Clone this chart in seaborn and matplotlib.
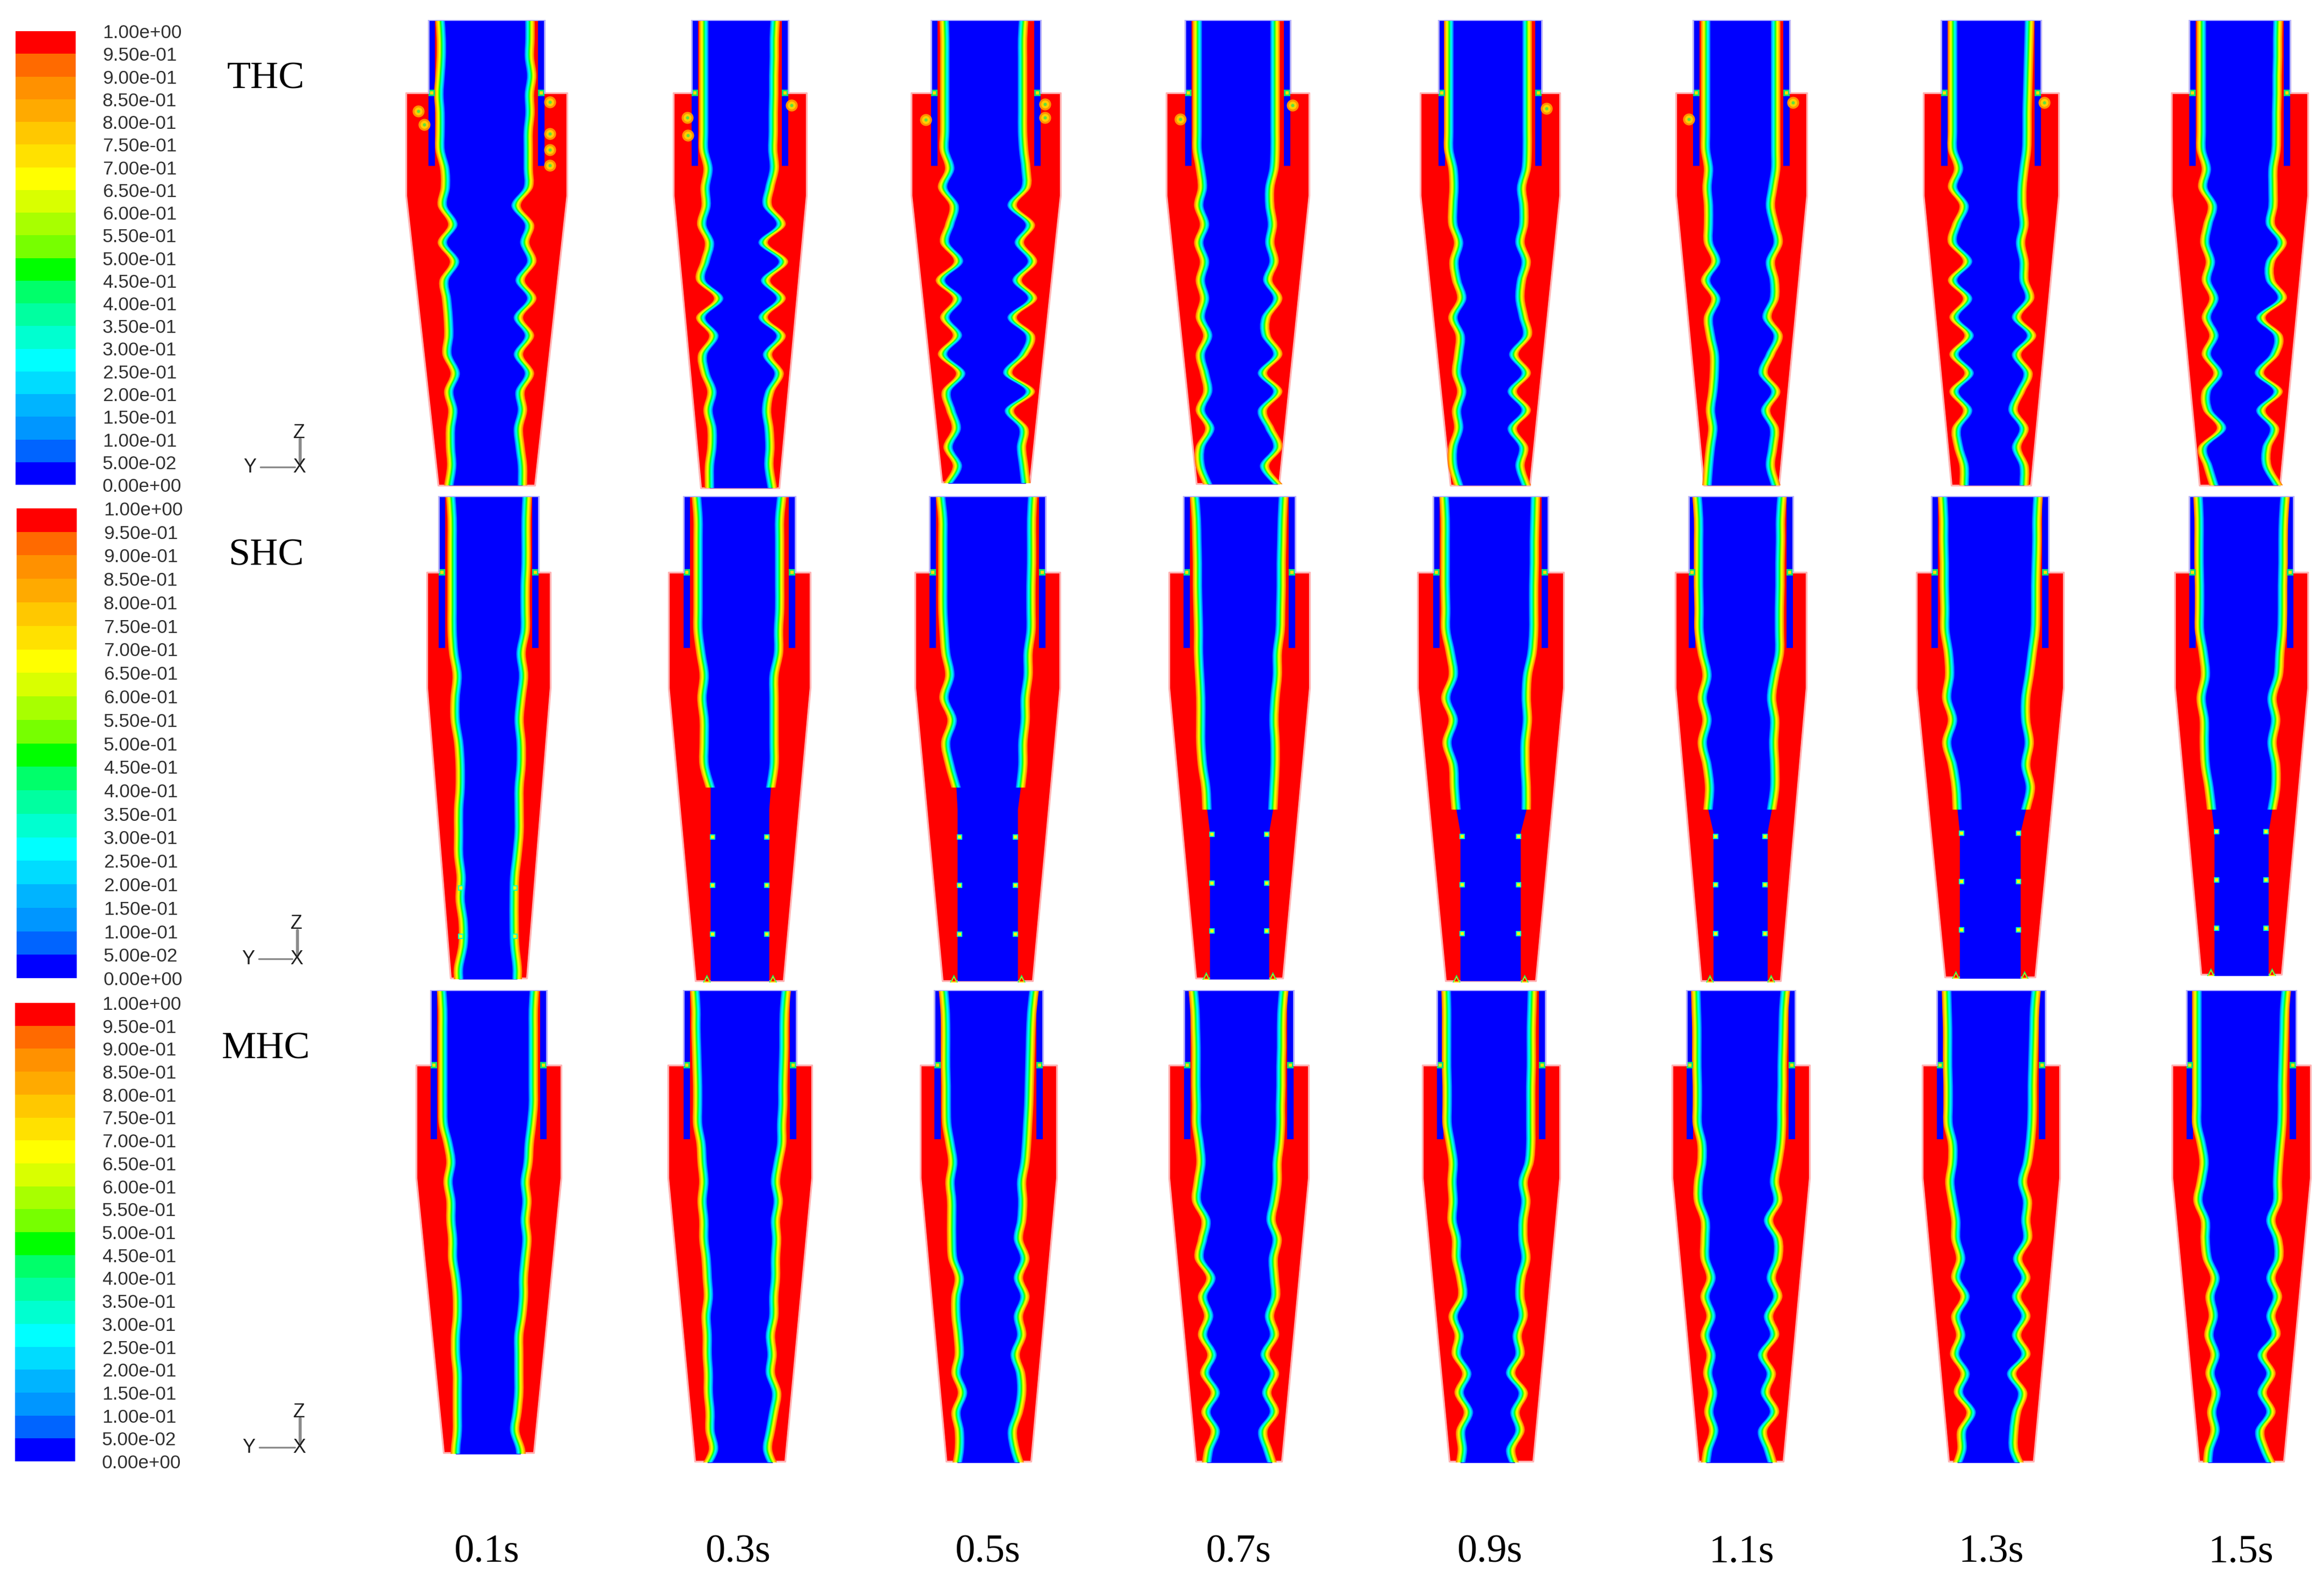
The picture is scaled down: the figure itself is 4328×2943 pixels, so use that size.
"""Volume fraction contours of three hydrocyclones at eight flow times."""
import numpy as np
import seaborn as sb
import matplotlib
matplotlib.use('Agg')
import matplotlib.pyplot as plt
from matplotlib.colors import ListedColormap
from matplotlib.patches import PathPatch
from matplotlib.path import Path

W, H = 4328, 2943

TIME_LABELS = ['0.1s', '0.3s', '0.5s', '0.7s', '0.9s', '1.1s', '1.3s', '1.5s']
TIME_X = [906, 1374, 1839, 2306, 2774, 3243, 3708, 4173]
ROW_NAMES = ['THC', 'SHC', 'MHC']
ROW_NAME_Y = [147, 1035, 1954]

LEGEND_LABELS = ['1.00e+00', '9.50e-01', '9.00e-01', '8.50e-01', '8.00e-01', '7.50e-01', '7.00e-01',
                 '6.50e-01', '6.00e-01', '5.50e-01', '5.00e-01', '4.50e-01', '4.00e-01', '3.50e-01',
                 '3.00e-01', '2.50e-01', '2.00e-01', '1.50e-01', '1.00e-01', '5.00e-02', '0.00e+00']
LEGEND_VALUES = [0.975, 0.925, 0.875, 0.825, 0.775, 0.725, 0.675, 0.625, 0.575, 0.525,
                 0.475, 0.425, 0.375, 0.325, 0.275, 0.225, 0.175, 0.125, 0.075, 0.025]
# top of the legend first
LEGEND_COLORS = ['#ff0000', '#ff6a00', '#ff9100', '#ffaa00', '#ffc800', '#ffe100', '#ffff00',
                 '#d9ff00', '#a8ff00', '#77ff00', '#00ff00', '#00ff6a', '#00ffa0', '#00ffd0',
                 '#00ffff', '#00dcff', '#00b4ff', '#0096ff', '#0064ff', '#0000ff']

# Interface radius, percent of the tube radius, read at each depth level
THC_LEVELS = [0, 35, 69, 104, 138, 173, 208, 242, 277, 312, 346, 381, 415, 450, 485, 519, 554, 588,
              623, 658, 692, 727, 761, 796, 831, 865]
THC_LEFT = [
    [80, 78, 78, 80, 82, 80, 80, 80, 72, 71, 76, 58, 76, 55, 73, 69, 66, 65, 68, 54, 65, 58, 62, 62, 60, 65],
    [75, 75, 75, 75, 75, 75, 75, 75, 66, 72, 70, 79, 63, 72, 81, 44, 81, 54, 77, 72, 58, 66, 58, 58, 63, 63],
    [76, 75, 75, 75, 75, 75, 75, 76, 66, 79, 58, 66, 75, 50, 83, 52, 75, 52, 79, 46, 72, 64, 54, 69, 52, 70],
    [77, 77, 77, 77, 77, 77, 77, 77, 71, 67, 74, 63, 74, 63, 71, 63, 71, 57, 71, 63, 57, 71, 53, 71, 71, 57],
    [80, 80, 80, 80, 80, 80, 80, 80, 72, 70, 72, 72, 61, 70, 65, 55, 72, 58, 61, 65, 55, 65, 61, 72, 72, 61],
    [74, 74, 74, 74, 74, 74, 74, 74, 68, 71, 68, 68, 68, 53, 74, 53, 68, 64, 56, 56, 59, 64, 59, 64, 68, 71],
    [77, 77, 77, 77, 77, 77, 77, 77, 65, 77, 54, 69, 77, 47, 77, 47, 74, 44, 74, 44, 74, 47, 69, 65, 54, 54],
    [76, 76, 76, 76, 76, 76, 76, 76, 66, 73, 54, 63, 69, 58, 66, 51, 66, 51, 66, 43, 66, 63, 36, 73, 63, 51],
]
THC_RIGHT = [
    [75, 75, 74, 78, 74, 75, 72, 72, 72, 72, 51, 74, 66, 78, 58, 78, 55, 74, 55, 74, 58, 62, 55, 58, 62, 62],
    [73, 71, 71, 70, 70, 69, 69, 68, 71, 62, 57, 85, 48, 90, 53, 85, 48, 85, 57, 81, 62, 55, 60, 62, 60, 67],
    [69, 67, 67, 67, 67, 67, 67, 69, 73, 73, 48, 81, 61, 85, 57, 85, 48, 81, 69, 40, 81, 43, 69, 65, 69, 73],
    [71, 71, 71, 71, 71, 71, 71, 71, 69, 61, 61, 66, 61, 69, 57, 76, 54, 54, 76, 47, 76, 47, 61, 76, 51, 76],
    [72, 72, 72, 72, 72, 72, 72, 72, 70, 61, 65, 65, 58, 70, 61, 58, 65, 72, 46, 70, 43, 70, 43, 65, 58, 70],
    [71, 71, 71, 71, 71, 71, 71, 71, 71, 65, 60, 68, 76, 60, 68, 68, 53, 76, 60, 45, 71, 50, 68, 65, 60, 71],
    [77, 76, 75, 74, 73, 72, 72, 71, 66, 62, 62, 66, 59, 66, 66, 77, 51, 81, 51, 74, 59, 44, 66, 51, 66, 66],
    [76, 75, 75, 74, 74, 73, 73, 72, 66, 66, 66, 61, 84, 61, 61, 84, 42, 76, 69, 39, 76, 42, 69, 54, 54, 76],
]
# pockets of lighter phase in the THC body: offset from the axis and depth, per time
THC_POCKET_X = [[-127, -116, 118, 118, 118, 118], [-98, -97, 96], [-112, 110, 110], [-107, 102], [105],
                [-98, 96], [99], []]
THC_POCKET_Z = [[170, 195, 153, 212, 242, 271], [182, 215, 159], [186, 157, 182], [185, 159], [165],
                [185, 154], [154], []]

SHC_LEVELS = [0, 42, 84, 125, 167, 209, 250, 292, 334, 376, 417, 459, 501, 543, 584, 626, 668, 710,
              751, 793, 835, 877, 900]
SHC_LEFT = [
    [76, 73, 73, 73, 73, 73, 73, 70, 63, 67, 67, 60, 57, 57, 60, 60, 60, 55, 57, 51, 51, 60, 60],
    [77, 74, 74, 74, 74, 74, 74, 69, 63, 67, 63, 63, 63, 52, 52, 52, 52, 52, 52, 52, 52, 52, 52],
    [81, 77, 77, 77, 77, 77, 75, 72, 65, 75, 61, 72, 65, 54, 52, 52, 52, 52, 52, 52, 52, 52, 52],
    [80, 77, 76, 75, 75, 74, 73, 73, 71, 69, 69, 69, 66, 60, 58, 53, 53, 53, 53, 53, 53, 53, 53],
    [81, 79, 79, 79, 79, 78, 78, 70, 65, 78, 65, 76, 65, 63, 60, 53, 53, 53, 53, 53, 53, 53, 53],
    [84, 81, 81, 81, 81, 80, 80, 74, 65, 74, 65, 74, 65, 60, 63, 53, 53, 53, 53, 53, 53, 53, 53],
    [81, 79, 79, 78, 78, 77, 77, 71, 69, 74, 64, 74, 64, 58, 56, 52, 52, 52, 52, 52, 52, 52, 52],
    [83, 81, 81, 81, 80, 80, 80, 73, 69, 77, 71, 71, 69, 62, 57, 52, 52, 52, 52, 52, 52, 52, 52],
]
SHC_RIGHT = [
    [77, 75, 75, 75, 73, 73, 73, 65, 70, 65, 61, 65, 65, 61, 61, 61, 57, 52, 51, 51, 52, 57, 57],
    [76, 72, 72, 72, 72, 72, 70, 70, 62, 62, 62, 62, 62, 56, 53, 53, 53, 53, 53, 53, 53, 53, 53],
    [78, 76, 76, 76, 75, 75, 75, 70, 70, 65, 65, 61, 61, 57, 52, 52, 52, 52, 52, 52, 52, 52, 52],
    [79, 77, 76, 75, 75, 74, 73, 68, 68, 64, 62, 64, 64, 62, 60, 53, 53, 53, 53, 53, 53, 53, 53],
    [78, 77, 76, 76, 75, 75, 75, 72, 64, 62, 64, 60, 60, 62, 62, 52, 52, 52, 52, 52, 52, 52, 52],
    [79, 76, 76, 75, 75, 74, 74, 74, 65, 59, 65, 63, 65, 65, 59, 51, 51, 51, 51, 51, 51, 51, 51],
    [82, 80, 80, 79, 78, 78, 77, 72, 67, 61, 61, 67, 61, 69, 61, 52, 52, 52, 52, 52, 52, 52, 52],
    [84, 81, 80, 80, 79, 79, 78, 74, 71, 59, 66, 59, 66, 66, 59, 52, 52, 52, 52, 52, 52, 52, 52],
]
# number of levels that still carry a mixing band, per time
SHC_BAND_LEVELS = [23, 14, 14, 15, 15, 15, 15, 15]
# depth of the small spots on the core edge
SHC_SPOT_Z = [[730, 820], [635, 725, 816], [635, 725, 816], [630, 721, 810], [634, 724, 815], [634, 724, 815],
              [628, 718, 808], [625, 715, 805]]

MHC_LEVELS = [0, 36, 71, 107, 143, 179, 214, 250, 286, 321, 357, 393, 429, 464, 500, 536, 571, 607,
              643, 679, 714, 750, 786, 821, 857, 893]
MHC_LEFT = [
    [81, 79, 79, 79, 79, 79, 79, 78, 70, 65, 70, 65, 65, 62, 62, 57, 54, 54, 57, 57, 54, 54, 54, 54, 57, 57],
    [80, 78, 78, 77, 76, 75, 75, 75, 69, 67, 64, 67, 64, 64, 60, 58, 56, 60, 58, 58, 56, 56, 53, 53, 47, 64],
    [83, 80, 79, 79, 79, 78, 78, 77, 71, 66, 71, 68, 68, 68, 66, 54, 60, 60, 56, 54, 60, 48, 60, 54, 54, 60],
    [83, 80, 79, 78, 78, 78, 77, 77, 72, 69, 74, 77, 60, 66, 72, 51, 66, 55, 66, 49, 62, 43, 60, 43, 55, 60],
    [83, 82, 82, 82, 82, 81, 81, 81, 75, 70, 72, 70, 72, 64, 64, 56, 53, 70, 59, 64, 45, 59, 42, 56, 53, 59],
    [83, 82, 81, 81, 81, 80, 80, 80, 72, 72, 78, 78, 66, 66, 66, 55, 66, 55, 66, 55, 61, 52, 59, 50, 61, 66],
    [82, 81, 80, 80, 80, 79, 79, 79, 71, 71, 76, 71, 65, 65, 56, 65, 48, 65, 56, 67, 48, 60, 37, 54, 54, 67],
    [81, 81, 81, 81, 81, 81, 81, 81, 73, 68, 73, 79, 66, 66, 62, 48, 57, 51, 59, 48, 57, 46, 54, 48, 59, 62],
]
MHC_RIGHT = [
    [79, 77, 77, 77, 77, 77, 77, 74, 70, 68, 63, 66, 63, 66, 63, 60, 60, 57, 52, 52, 52, 52, 49, 45, 55, 55],
    [82, 79, 78, 78, 77, 76, 76, 74, 74, 68, 63, 68, 63, 65, 63, 63, 60, 60, 54, 57, 54, 65, 60, 54, 49, 63],
    [84, 80, 78, 77, 76, 75, 74, 72, 70, 67, 61, 63, 61, 55, 67, 55, 67, 55, 61, 49, 59, 61, 55, 44, 49, 61],
    [82, 79, 78, 78, 77, 77, 76, 76, 74, 70, 70, 65, 59, 70, 63, 65, 67, 56, 65, 48, 65, 51, 65, 44, 53, 65],
    [76, 75, 74, 74, 74, 73, 73, 73, 73, 70, 59, 64, 59, 59, 64, 55, 53, 59, 48, 53, 36, 59, 44, 53, 36, 48],
    [82, 79, 78, 77, 76, 76, 75, 75, 73, 68, 62, 68, 51, 68, 68, 56, 68, 51, 62, 40, 56, 45, 62, 40, 51, 62],
    [83, 80, 79, 78, 77, 76, 76, 75, 72, 67, 58, 67, 64, 67, 49, 64, 47, 64, 47, 64, 38, 58, 47, 42, 42, 58],
    [82, 79, 78, 77, 76, 75, 75, 74, 71, 68, 66, 66, 54, 66, 68, 54, 66, 54, 63, 38, 54, 38, 54, 34, 43, 60],
]

# layout of the three rows, reference pixels
ROWS = [
    dict(top=37, collar=136, finder=272, cone=327,
         cx=[906, 1378, 1836, 2305, 2775, 3243, 3708, 4171],
         bottom=[904, 909, 898, 901, 904, 904, 904, 904],
         tube=[108, 90, 102, 98, 96, 90, 93, 94], body=[150, 124, 139, 133, 130, 122, 126, 127],
         tip=[90, 73, 82, 77, 74, 70, 74, 75]),
    dict(top=924, collar=142, finder=283, cone=357,
         cx=[910, 1377, 1839, 2308, 2776, 3242, 3706, 4174],
         bottom=[1822, 1827, 1827, 1822, 1827, 1827, 1820, 1815],
         tube=[93, 104, 108, 104, 107, 97, 109, 97], body=[115, 132, 135, 131, 136, 122, 137, 124],
         tip=[71, 82, 84, 81, 84, 74, 84, 75]),
    dict(top=1844, collar=140, finder=278, cone=350,
         cx=[910, 1378, 1841, 2307, 2777, 3242, 3708, 4174],
         bottom=[2706, 2722, 2722, 2722, 2722, 2722, 2722, 2722],
         tube=[108, 105, 101, 102, 101, 101, 101, 102], body=[135, 134, 127, 130, 128, 128, 128, 129],
         tip=[84, 84, 79, 80, 78, 79, 79, 79]),
]
LEGEND_BOX = [(58, 903, 29), (947, 1822, 31), (1868, 2722, 28)]
TRIAD = [(465, 557, 870, 806), (462, 552, 1786, 1721), (463, 557, 2696, 2630)]

RED, BLUE = LEGEND_COLORS[0], LEGEND_COLORS[-1]
# half width of the mixing band around the green line, px
BAND = 9
SERIF = 'Liberation Serif'
SANS = 'Liberation Sans'


def to_axes(x0, x1, top, bottom):
    return [x0 / W, 1 - bottom / H, (x1 - x0) / W, (bottom - top) / H]


def edge_path(x, z):
    """Region from a wavy edge to the axis; the edge runs through every read point as a smooth curve."""
    verts = [(x[0], z[0])]
    codes = [Path.MOVETO]
    last = len(x) - 1
    for i in range(last):
        a, d = max(i - 1, 0), min(i + 2, last)
        verts.append((x[i] + (x[i + 1] - x[a]) / 6, z[i] + (z[i + 1] - z[a]) / 6))
        verts.append((x[i + 1] - (x[d] - x[i]) / 6, z[i + 1] - (z[d] - z[i]) / 6))
        verts.append((x[i + 1], z[i + 1]))
        codes += [Path.CURVE4] * 3
    verts += [(0, z[-1]), (0, z[0]), (0, z[0])]
    codes += [Path.LINETO, Path.LINETO, Path.CLOSEPOLY]
    return Path(verts, codes)


def draw_bands(ax, z, radius, side):
    """Paint the contour bands one over the other, from the wall side in to the core."""
    edges = np.linspace(BAND, -BAND, 19)
    for k, color in enumerate(LEGEND_COLORS[1:20]):
        path = edge_path(side * (radius + edges[k]), z)
        ax.add_patch(PathPatch(path, facecolor=color, edgecolor='none', linewidth=0))


def draw_panel(row, i, levels, left, right, n_band, pockets=None, spots=None):
    cx, tube, body, tip = row['cx'][i], row['tube'][i], row['body'][i], row['tip'][i]
    top, bottom = row['top'], row['bottom'][i]
    height = bottom - top
    ax = fig.add_axes(to_axes(cx - body - 8, cx + body + 8, top, bottom + 2))
    ax.patch.set_alpha(0)

    # silhouette with a pale rim, as in the exported contour picture
    wall_z = [0, row['collar'], row['collar'], row['cone'], height]
    wall_r = [tube, tube, body, body, tip]
    ax.fill_betweenx(wall_z, -np.array(wall_r), wall_r, color=RED, edgecolor='#ffb4b4', linewidth=0.6)

    # vortex finder walls
    for side in (-1, 1):
        ax.fill_betweenx([0, row['finder']], side * tube, side * (tube - 12), color=BLUE, linewidth=0)
    ax.plot([-tube, tube], [0, 0], color='#b4b4ff', linewidth=0.5)
    ax.plot([-tube, -tube], [0, row['collar']], color='#b4b4ff', linewidth=0.5)
    ax.plot([tube, tube], [0, row['collar']], color='#b4b4ff', linewidth=0.5)

    z = np.array(levels, dtype=float)
    # the last level is the outlet plane of this panel
    z[-1] = max(z[-1], height)
    r_left = np.array(left) * tube / 100
    r_right = np.array(right) * tube / 100
    ax.fill_betweenx(z, -r_left, r_right, color=BLUE, linewidth=0)
    draw_bands(ax, z[:n_band], r_left[:n_band], -1)
    draw_bands(ax, z[:n_band], r_right[:n_band], 1)

    # marks where the finder passes the collar
    collar_x = [-(tube - 6), tube - 6]
    sb.scatterplot(x=collar_x, y=[row['collar']] * 2, marker='s', s=5, color='#00e070', linewidth=0,
                   ax=ax, legend=False)
    sb.scatterplot(x=collar_x, y=[row['collar']] * 2, marker='s', s=1.5, color='#ffe100', linewidth=0,
                   ax=ax, legend=False)

    if pockets is not None and len(pockets[0]):
        for size, color in ((16, '#ff9100'), (7, '#ffd000'), (1.2, '#60e040')):
            sb.scatterplot(x=pockets[0], y=pockets[1], s=size, color=color, linewidth=0, ax=ax, legend=False)

    if spots is not None:
        edge_l, edge_r = r_left[-1], r_right[-1]
        for size, color in ((3.5, '#00ffc0'), (1.2, '#ffff00')):
            sb.scatterplot(x=[-edge_l + 4] * len(spots), y=spots, marker='s', s=size, color=color,
                           linewidth=0, ax=ax, legend=False)
            sb.scatterplot(x=[edge_r - 4] * len(spots), y=spots, marker='s', s=size, color=color,
                           linewidth=0, ax=ax, legend=False)
        # the small fans in the two bottom corners
        if n_band < len(levels):
            corner_x = [-edge_l - 7, edge_r + 7]
            for size, color in ((11, '#00ff6a'), (5, '#ffe100'), (1.5, RED)):
                sb.scatterplot(x=corner_x, y=[height - 3] * 2, marker='^', s=size, color=color, linewidth=0,
                               ax=ax, legend=False)

    ax.set_xlim(-body - 8, body + 8)
    ax.set_ylim(height + 2, 0)
    ax.set_xlabel('')
    ax.set_ylabel('')
    ax.axis('off')


if __name__ == '__main__':
    sb.set_theme(style='white')
    plt.rcParams['font.family'] = [SANS, 'DejaVu Sans']
    fig = plt.figure(figsize=(W / 400, H / 400), dpi=400, facecolor='white')

    # legends
    legend_cmap = ListedColormap(LEGEND_COLORS[::-1])
    legend_data = np.array(LEGEND_VALUES).reshape(-1, 1)
    for top, bottom, left in LEGEND_BOX:
        ax = fig.add_axes(to_axes(left, left + 112, top, bottom))
        sb.heatmap(legend_data, cmap=legend_cmap, vmin=0, vmax=1, cbar=False, xticklabels=False, ax=ax)
        ax.yaxis.tick_right()
        ax.set_yticks(np.arange(len(LEGEND_LABELS)))
        ax.set_yticklabels(LEGEND_LABELS, rotation=0, fontsize=6.3, color='#303030', ha='left')
        ax.tick_params(axis='y', length=0, pad=9)

    # contour panels
    for i in range(len(TIME_LABELS)):
        draw_panel(ROWS[0], i, THC_LEVELS, THC_LEFT[i], THC_RIGHT[i], len(THC_LEVELS),
                   pockets=(THC_POCKET_X[i], THC_POCKET_Z[i]))
        draw_panel(ROWS[1], i, SHC_LEVELS, SHC_LEFT[i], SHC_RIGHT[i], SHC_BAND_LEVELS[i], spots=SHC_SPOT_Z[i])
        draw_panel(ROWS[2], i, MHC_LEVELS, MHC_LEFT[i], MHC_RIGHT[i], len(MHC_LEVELS))

    # labels and axis triads sit on a sheet over the whole figure
    sheet = fig.add_axes([0, 0, 1, 1])
    sheet.set_xlim(0, W)
    sheet.set_ylim(H, 0)
    sheet.axis('off')
    sheet.patch.set_alpha(0)
    for name, y in zip(ROW_NAMES, ROW_NAME_Y):
        sheet.text(495, y, name, family=SERIF, fontsize=13, color='black', ha='center', va='center')
    for label, x in zip(TIME_LABELS, TIME_X):
        sheet.text(x, 2892, label, family=SERIF, fontsize=13.4, color='black', ha='center', va='center')
    for y_x, x_x, y0, z_y in TRIAD:
        sheet.plot([y_x + 20, x_x - 8], [y0, y0], color='#8a8a8a', linewidth=0.6)
        sheet.plot([x_x + 2, x_x + 2], [y0 - 6, z_y + 12], color='#8a8a8a', linewidth=1.0)
        sheet.text(y_x, y0, 'Y', fontsize=6.5, color='#202020', ha='center', va='center')
        sheet.text(x_x, y0, 'X', fontsize=6.5, color='#202020', ha='center', va='center')
        sheet.text(x_x, z_y, 'Z', fontsize=6.5, color='#202020', ha='center', va='center')

    plt.savefig('out.png', dpi=400, facecolor='white')
